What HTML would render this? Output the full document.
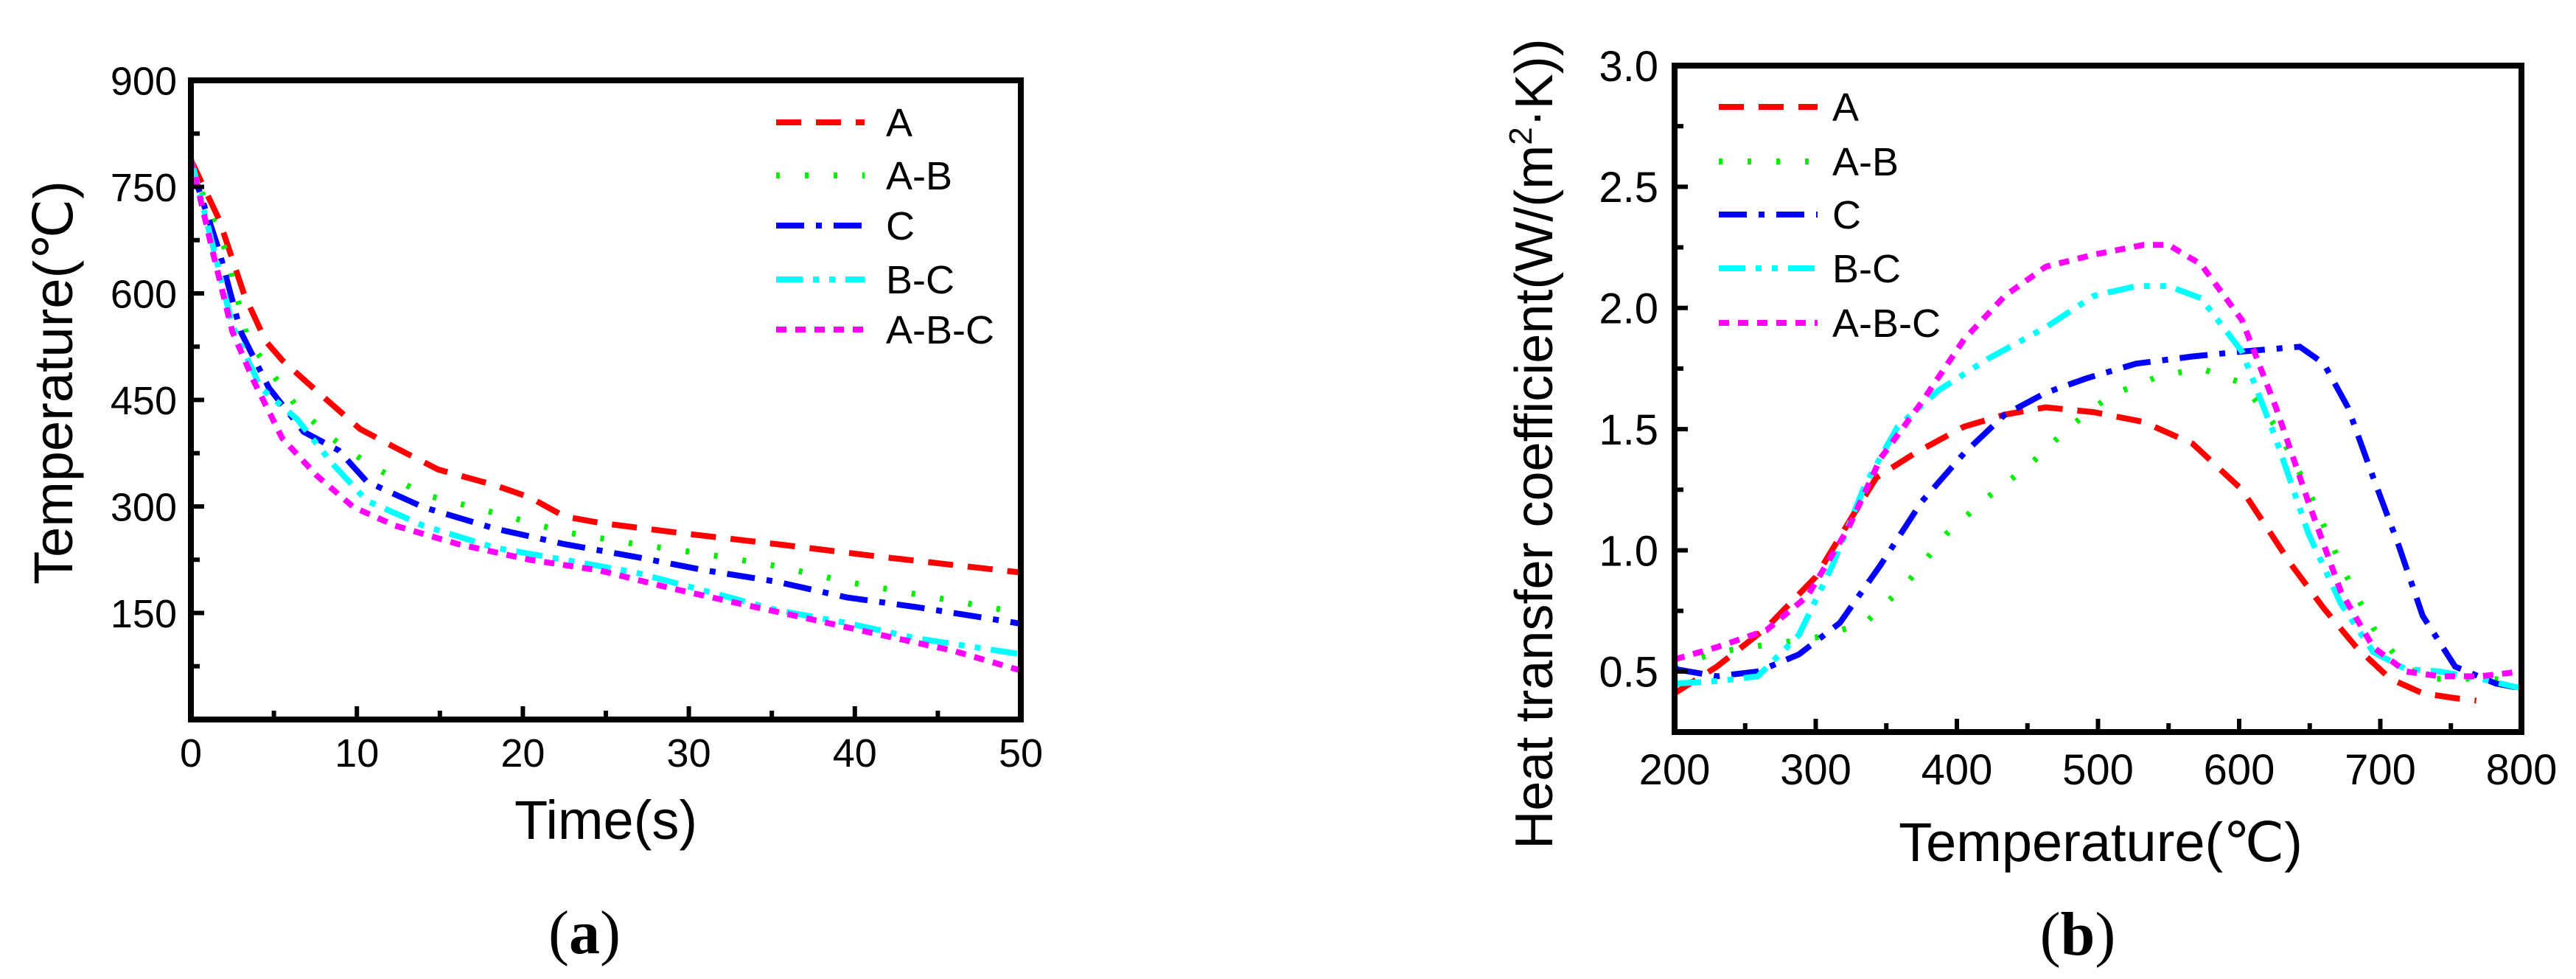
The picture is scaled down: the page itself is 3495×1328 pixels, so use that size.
<!DOCTYPE html>
<html><head><meta charset="utf-8"><style>
html,body{margin:0;padding:0;background:#fff;}
svg{display:block;font-family:"Liberation Sans",sans-serif;}
</style></head><body>
<svg id="fig" width="3495" height="1328" viewBox="0 0 3495 1328" xmlns="http://www.w3.org/2000/svg">
<g id="ga"></g>
<g id="gb"></g>
<text x="793" y="1293" font-family="Liberation Serif,serif" font-size="84" text-anchor="middle">(<tspan font-weight="bold">a</tspan>)</text>
<text x="2819" y="1295" font-family="Liberation Serif,serif" font-size="84" text-anchor="middle">(<tspan font-weight="bold">b</tspan>)</text>
</svg>
<script>
const seriesNames=["A","A-B","C","B-C","A-B-C"];
const seriesColors=["#ff0000","#00ee00","#0000ff","#00ffff","#ff00ff"];
const seriesDash=["34 20","5 34","38 16 8 16","36 14 8 14 8 14","14 12"];
// Chart a data
const aTicksX=[0,10,20,30,40,50];
const aTicksY=[150,300,450,600,750,900];
const aT_A=[0,1.7,3.2,4.5,5.5,7.6,10.2,12.3,14.9,18.3,20.4,22.5,24.6,29.7,35.3,41.6,50];
const aV_A=[788,704,599,533,506,462,409,383,352,330,313,286,277,262,247,229,207];
const aT_AB=[0,2.1,3.4,4.7,6.4,8.5,10.6,14,18.3,22.5,26.8,31,35.3,39.5,43.8,50];
const aV_AB=[780,660,537,493,440,396,361,317,291,264,247,233,216,194,176,150];
const aT_C=[0,1.7,3,4.7,6.8,8.9,10.6,14,18.3,22.5,26.8,31,35.3,39.5,43.8,50];
const aV_C=[780,660,546,467,405,379,335,299,269,247,229,210,194,172,158,135];
const aT_BC=[0,1.3,2.5,4.2,6.4,8.5,10.6,14,18.3,22.5,26.8,31,35.3,39.5,43.8,50];
const aV_BC=[790,669,555,467,423,361,308,273,242,225,207,181,154,136,114,92];
const aT_ABC=[0,1.3,2.5,3.8,5.5,7.6,9.8,12.3,16.1,20.4,24.6,28.9,33.1,37.4,41.6,45.9,50];
const aV_ABC=[790,660,546,476,396,343,299,273,247,225,210,185,163,141,119,97,69];
// Chart b data
const bTicksX=[200,300,400,500,600,700,800];
const bTicksY=[0.5,1.0,1.5,2.0,2.5,3.0];
const bT_A=[200,230,265,300,327,343,370,405,434,463,497,532,567,602,637,660,683,707,730,753,768];
const bH_A=[0.41,0.52,0.68,0.89,1.15,1.30,1.40,1.51,1.56,1.59,1.57,1.53,1.44,1.25,0.94,0.76,0.60,0.47,0.41,0.39,0.38];
const bT_AB=[200,230,265,300,335,364,393,422,451,480,509,544,573,602,626,649,672,695,713,730,753,777,800];
const bH_AB=[0.52,0.58,0.61,0.64,0.70,0.86,1.07,1.22,1.35,1.51,1.64,1.72,1.75,1.69,1.51,1.25,0.94,0.68,0.55,0.47,0.47,0.47,0.46];
const bT_C=[200,230,259,288,317,346,375,405,434,463,492,527,567,602,643,660,677,695,713,730,753,782,800];
const bH_C=[0.51,0.48,0.50,0.57,0.70,0.94,1.20,1.40,1.56,1.65,1.71,1.77,1.80,1.82,1.84,1.77,1.59,1.30,1.02,0.73,0.52,0.45,0.43];
const bT_BC=[200,230,259,288,312,335,358,387,422,463,497,527,550,573,602,626,649,672,695,718,742,771,800];
const bH_BC=[0.45,0.46,0.48,0.65,0.94,1.27,1.51,1.66,1.79,1.92,2.05,2.09,2.09,2.04,1.82,1.46,1.07,0.78,0.58,0.51,0.50,0.47,0.43];
const bT_ABC=[200,230,265,294,323,346,375,405,434,463,497,532,550,573,602,626,649,672,695,718,742,771,800];
const bH_ABC=[0.55,0.60,0.67,0.81,1.09,1.38,1.61,1.87,2.05,2.17,2.22,2.26,2.26,2.18,1.95,1.59,1.20,0.83,0.60,0.50,0.48,0.48,0.50];

const NS="http://www.w3.org/2000/svg";
function mk(parent,tag,attrs,txt){const e=document.createElementNS(NS,tag);for(const k in attrs)e.setAttribute(k,attrs[k]);if(txt!==undefined)e.textContent=txt;parent.appendChild(e);return e;}

function drawChart(g,cfg){
  const sx=v=>cfg.x0+(v-cfg.xmin)/(cfg.xmax-cfg.xmin)*(cfg.x1-cfg.x0);
  const sy=v=>cfg.y0-(v-cfg.ymin)/(cfg.ymax-cfg.ymin)*(cfg.y0-cfg.y1);
  cfg.series.forEach((s,i)=>{
    const p=mk(g,"polyline",{points:s.x.map((v,j)=>sx(v).toFixed(1)+","+sy(s.y[j]).toFixed(1)).join(" "),fill:"none",stroke:seriesColors[i],"stroke-width":8,"stroke-dasharray":seriesDash[i]});
    
    
  });
  const f=mk(g,"rect",{x:cfg.x0,y:cfg.y1,width:cfg.x1-cfg.x0,height:cfg.y0-cfg.y1,fill:"none",stroke:"#000","stroke-width":8});
  
  
  cfg.xticks.forEach((v,i)=>{
    const x=sx(v);
    mk(g,"line",{x1:x,x2:x,y1:cfg.y0,y2:cfg.y0-18,stroke:"#000","stroke-width":6});
    if(i<cfg.xticks.length-1){const xm=sx(v+cfg.xminor);mk(g,"line",{x1:xm,x2:xm,y1:cfg.y0,y2:cfg.y0-12,stroke:"#000","stroke-width":6});}
    const t=mk(g,"text",{x:x,y:cfg.xly,"font-size":cfg.fs,"text-anchor":"middle"},cfg.xfmt(v));
    
    
  });
  cfg.yticks.forEach(v=>{
    const y=sy(v);
    mk(g,"line",{x1:cfg.x0,x2:cfg.x0+18,y1:y,y2:y,stroke:"#000","stroke-width":6});
    const ym=sy(v-cfg.yminor);mk(g,"line",{x1:cfg.x0,x2:cfg.x0+12,y1:ym,y2:ym,stroke:"#000","stroke-width":6});
    const t=mk(g,"text",{x:cfg.ylx,y:y+cfg.fs*0.36,"font-size":cfg.fs,"text-anchor":"end"},cfg.yfmt(v));
    
    
  });
  cfg.leg.ys.forEach((y,i)=>{
    const l=mk(g,"line",{x1:cfg.leg.x0,x2:cfg.leg.x1,y1:y,y2:y,stroke:seriesColors[i],"stroke-width":8,"stroke-dasharray":seriesDash[i]});
    
    
    const t=mk(g,"text",{x:cfg.leg.tx,y:y+19,"font-size":54},seriesNames[i]);
    
    
  });
}

drawChart(document.getElementById("ga"),{
  x0:259,x1:1385,y0:976,y1:109,xmin:0,xmax:50,ymin:0,ymax:900,
  xticks:aTicksX,xminor:5,yticks:aTicksY,yminor:75,fs:54,xly:1040,ylx:240,
  xfmt:v=>String(v),yfmt:v=>String(v),
  series:[{x:aT_A,y:aV_A},{x:aT_AB,y:aV_AB},{x:aT_C,y:aV_C},{x:aT_BC,y:aV_BC},{x:aT_ABC,y:aV_ABC}],
  leg:{x0:1053,x1:1173,tx:1202,ys:[166,238,306,379,447]}
});
drawChart(document.getElementById("gb"),{
  x0:2272,x1:3421,y0:993,y1:89,xmin:200,xmax:800,ymin:0.25,ymax:3.0,
  xticks:bTicksX,xminor:50,yticks:bTicksY,yminor:0.25,fs:58,xly:1064,ylx:2250,
  xfmt:v=>String(v),yfmt:v=>v.toFixed(1),
  series:[{x:bT_A,y:bH_A},{x:bT_AB,y:bH_AB},{x:bT_C,y:bH_C},{x:bT_BC,y:bH_BC},{x:bT_ABC,y:bH_ABC}],
  leg:{x0:2332,x1:2466,tx:2486,ys:[145,219,291,364,438]}
});
const fig=document.getElementById("fig");
let t;
t=mk(fig,"text",{x:822,y:1138,"font-size":74,"text-anchor":"middle"},"Time(s)");


t=mk(fig,"text",{x:0,y:0,"font-size":74,"text-anchor":"middle",transform:"translate(98,519) rotate(-90)"},"Temperature(℃)");


t=mk(fig,"text",{x:2850,y:1168,"font-size":74,"text-anchor":"middle"},"Temperature(℃)");


t=mk(fig,"text",{x:0,y:0,"font-size":72,"text-anchor":"middle",transform:"translate(2106,602) rotate(-90)"});


t.innerHTML='Heat transfer coefficient(W/(m<tspan dy="-28" font-size="44">2</tspan><tspan dy="28">·K))</tspan>';
</script>
</body></html>
